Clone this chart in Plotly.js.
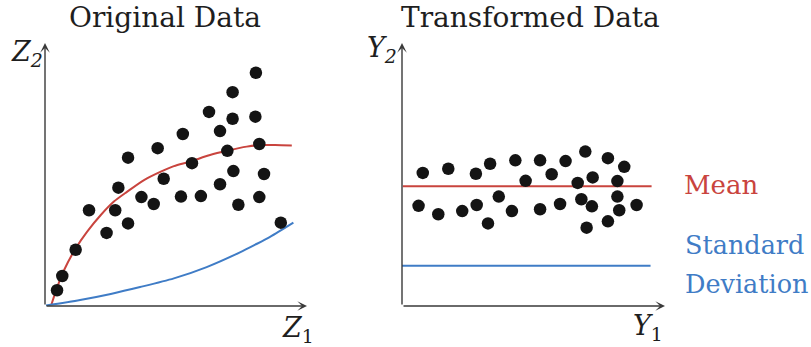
<!DOCTYPE html>
<html>
<head>
<meta charset="utf-8">
<script src="https://cdn.plot.ly/plotly-3.0.1.min.js"></script>
<style>html,body{margin:0;padding:0;background:#fff;}#chart{width:811px;height:347px;}</style>
</head>
<body>
<div id="chart"></div>
<script>
// ---- Original data (Z1, Z2) ----
const origZ1 = [8.05, 7.16, 6.26, 7.16, 8.03, 6.68, 5.26, 8.18, 6.96, 4.30, 3.17, 5.61, 7.19, 8.36, 4.53, 2.80,
                6.68, 3.68, 4.15, 5.19, 5.95, 7.38, 8.18, 1.68, 2.68, 2.35, 3.17, 9.00, 1.17, 0.66, 0.46];
const origZ2 = [8.87, 8.13, 7.38, 7.12, 7.20, 6.65, 6.54, 6.16, 5.90, 6.00, 5.64, 5.43, 5.13, 5.02, 4.84, 4.50,
                4.63, 4.14, 3.88, 4.16, 4.18, 3.85, 4.14, 3.64, 3.64, 2.78, 3.14, 3.17, 2.14, 1.14, 0.60];
// mean curve (red)
const meanCurveZ1 = [0.24, 0.47, 0.73, 1.17, 1.61, 2.13, 2.63, 3.14, 3.78, 4.42, 4.92, 5.53, 6.30, 6.94, 7.70, 8.21, 8.78, 9.42];
const meanCurveZ2 = [0.04, 0.73, 1.37, 2.19, 2.83, 3.46, 3.97, 4.35, 4.79, 5.11, 5.32, 5.49, 5.74, 5.90, 6.06, 6.12, 6.12, 6.10];
// standard deviation curve (blue)
const sdCurveZ1 = [0.04, 1.34, 2.51, 3.63, 4.92, 6.17, 7.44, 8.02, 8.59, 9.48];
const sdCurveZ2 = [0.02, 0.23, 0.46, 0.72, 1.05, 1.48, 2.04, 2.33, 2.63, 3.17];

// ---- Transformed data (Y1, Y2) ----
const transY1 = [0.79, 1.76, 2.81, 3.35, 4.31, 5.25, 6.22, 6.97, 7.83, 8.45, 4.70, 5.69, 6.68, 7.25, 8.19, 0.63,
                 1.38, 2.29, 2.84, 3.68, 3.27, 4.18, 5.25, 6.01, 6.82, 7.22, 8.19, 8.26, 8.92, 7.02, 7.83];
const transY2 = [5.06, 5.22, 5.03, 5.41, 5.54, 5.54, 5.51, 5.87, 5.62, 5.29, 4.76, 5.01, 4.68, 4.89, 4.75, 3.81,
                 3.49, 3.61, 3.84, 4.16, 3.14, 3.61, 3.68, 3.88, 4.06, 3.79, 4.16, 3.64, 3.84, 2.98, 3.22];
const meanLineY1 = [0.03, 9.49];
const meanLineY2 = [4.55, 4.55];
const sdLineY1 = [0.0, 9.45];
const sdLineY2 = [1.53, 1.53];

const titles = ["Original Data", "Transformed Data"];
const labelMean = "Mean";
const labelSD = ["Standard", "Deviation"];

const RED = "#c9443e";
const BLUE = "#3f7cc6";
const DOT = "#141414";
const AXC = "#3a3a3a";
const TXT = "#1e1e1e";
const FONT = "DejaVu Serif";

const W = 811, H = 347;
const px = v => v / W;
const py = v => 1 - v / H;

const traces = [
  {x: meanCurveZ1, y: meanCurveZ2, xaxis: 'x', yaxis: 'y', mode: 'lines', line: {color: RED, width: 2, shape: 'spline', smoothing: 0.8}, cliponaxis: false},
  {x: sdCurveZ1, y: sdCurveZ2, xaxis: 'x', yaxis: 'y', mode: 'lines', line: {color: BLUE, width: 2, shape: 'spline', smoothing: 0.8}, cliponaxis: false},
  {x: origZ1, y: origZ2, xaxis: 'x', yaxis: 'y', mode: 'markers', marker: {color: DOT, size: 12.5}, cliponaxis: false},
  {x: meanLineY1, y: meanLineY2, xaxis: 'x2', yaxis: 'y2', mode: 'lines', line: {color: RED, width: 2}, cliponaxis: false},
  {x: sdLineY1, y: sdLineY2, xaxis: 'x2', yaxis: 'y2', mode: 'lines', line: {color: BLUE, width: 2}, cliponaxis: false},
  {x: transY1, y: transY2, xaxis: 'x2', yaxis: 'y2', mode: 'markers', marker: {color: DOT, size: 12.5}, cliponaxis: false}
];

const hidden = {range: [0, 10], showgrid: false, zeroline: false, showticklabels: false, showline: false, ticks: '', fixedrange: true};
const yDom = [(H - 306) / H, (H - 43) / H];

function arrow(xr, yr, x, y, ax, ay) {
  return {xref: xr, yref: yr, axref: xr, ayref: yr, x: x, y: y, ax: ax, ay: ay, text: '', showarrow: true,
          arrowhead: 3, arrowsize: 1.15, arrowwidth: 1.4, arrowcolor: AXC, standoff: 0, startstandoff: 0};
}
function label(text, xPix, yPix, size, color, anchor) {
  return {xref: 'paper', yref: 'paper', x: px(xPix), y: py(yPix), text: text, showarrow: false,
          xanchor: anchor || 'left', yanchor: 'middle', font: {family: FONT, size: size, color: color}};
}

const layout = {
  width: W, height: H, margin: {l: 0, r: 0, t: 0, b: 0}, showlegend: false,
  paper_bgcolor: '#fff', plot_bgcolor: 'rgba(0,0,0,0)',
  font: {family: FONT},
  xaxis: Object.assign({}, hidden, {domain: [px(45), px(307)]}),
  yaxis: Object.assign({}, hidden, {domain: yDom}),
  xaxis2: Object.assign({}, hidden, {domain: [px(402), px(665)], anchor: 'y2'}),
  yaxis2: Object.assign({}, hidden, {domain: yDom, anchor: 'x2'}),
  annotations: [
    arrow('x', 'y', 10.0, 0, 0, 0),
    arrow('x', 'y', 0, 10.0, 0, 0),
    arrow('x2', 'y2', 10.0, 0, 0, 0),
    arrow('x2', 'y2', 0, 10.0, 0, 0),
    label(titles[0], 164.5, 17.5, 28, TXT, 'center'),
    label(titles[1], 530.5, 17.5, 28, TXT, 'center'),
    label('<i>Z<sub>2</sub></i>', 9, 53, 27, TXT),
    label('<i>Z</i><sub>1</sub>', 280, 329, 27, TXT),
    label('<i>Y<sub>2</sub></i>', 365, 50, 27, TXT),
    label('<i>Y</i><sub>1</sub>', 631, 327, 27, TXT),
    label(labelMean, 682, 185, 26, RED),
    label(labelSD[0], 683, 245, 25.5, BLUE),
    label(labelSD[1], 683, 284, 25.5, BLUE)
  ]
};

Plotly.newPlot('chart', traces, layout, {staticPlot: true, displayModeBar: false});
</script>
</body>
</html>
